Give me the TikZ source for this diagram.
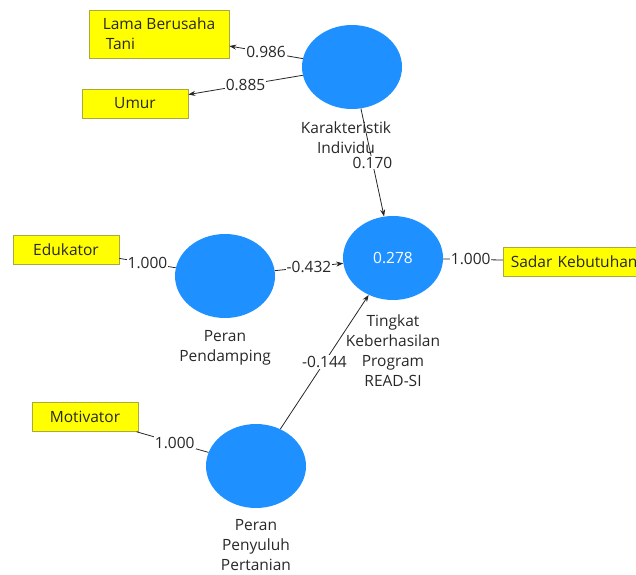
\documentclass[tikz,border=0pt]{standalone}
\usepackage{fontspec}
\setmainfont{Open Sans}
\usetikzlibrary{shapes.geometric, arrows.meta}
\definecolor{lvblue}{RGB}{30,144,255}
\definecolor{mvyellow}{RGB}{255,255,0}
\definecolor{mvedge}{RGB}{170,170,60}
\definecolor{txt}{RGB}{40,40,40}

\begin{document}
\begin{tikzpicture}[x=1pt, y=-1pt, font=\fontsize{15.5}{20}\selectfont, text=txt,
  lv/.style={ellipse, fill=lvblue, minimum width=100pt, minimum height=84pt, inner sep=0pt},
  mv/.style={draw=mvedge, fill=mvyellow, line width=0.6pt, minimum height=29pt, inner xsep=6pt},
  lvname/.style={align=center, anchor=north},
  ln/.style={draw=black!85, line width=0.8pt},
  arr/.style={ln, -{Stealth[length=7pt, width=5pt]}},
  w/.style={fill=white, inner sep=1pt, pos=0.5}]
  \useasboundingbox (0,0) rectangle (636,574);
  \clip (0,0) rectangle (636,574);
  % latent variables
  \node[lv] (kar) at (352,67) {};
  \node[lv, text=white] (tin) at (393,258) {0.278};
  \node[lv] (pen) at (225,276) {};
  \node[lv] (pny) at (256,466) {};
  \node[lvname] (karT) at (346,118) {Karakteristik\\Individu};
  \node[lvname] (tinT) at (393,311) {Tingkat\\Keberhasilan\\Program\\READ-SI};
  \node[lvname] (penT) at (225,327) {Peran\\Pendamping};
  \node[lvname] (pnyT) at (256,516) {Peran\\Penyuluh\\Pertanian};
  % indicators
  \node[mv, minimum width=140pt, minimum height=48pt, align=left] (lama) at (159,34) {Lama Berusaha\\\hspace{3pt}Tani};
  \node[mv, minimum width=106pt] (umur) at (135,103.5) {Umur};
  \node[mv, minimum width=106pt] (edu) at (66,249.5) {Edukator};
  \node[mv, minimum width=106pt] (mot) at (85,417) {Motivator};
  \node[mv, anchor=west, minimum width=160pt, align=left, text width=145pt] (sad) at (503,261.5) {Sadar Kebutuhan};
  % outer loadings
  \draw[arr] (kar) -- node[w] {0.986} (lama);
  \draw[arr] (kar) -- node[w] {0.885} (umur);
  \draw[ln] (edu) -- node[w] {1.000} (pen);
  \draw[ln] (mot) -- node[w, pos=0.53] {1.000} (pny);
  \draw[ln] (tin) -- node[w, pos=0.46] {1.000} (sad);
  % path coefficients
  \draw[arr] (kar) -- node[w] {0.170} (tin);
  \draw[arr] (pen) -- node[w] {-0.432} (tin);
  \draw[arr] (pny) -- node[w] {-0.144} (tin);
\end{tikzpicture}
\end{document}
